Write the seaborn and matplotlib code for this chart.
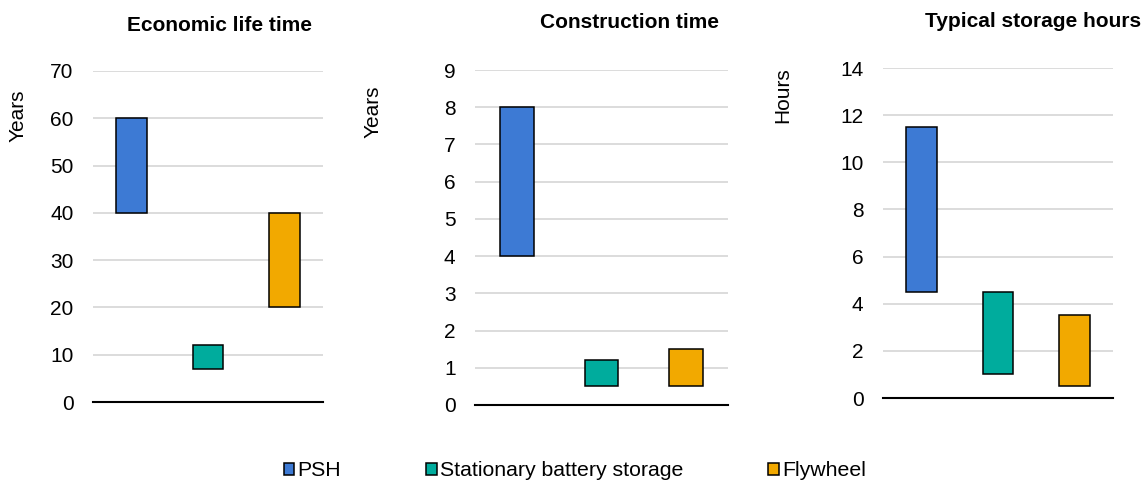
import numpy as np
import pandas as pd
import matplotlib
matplotlib.use("Agg")
import matplotlib.pyplot as plt
import seaborn as sns
from matplotlib.patches import Patch

# dados (faixas min-max)
tecnologias = ["PSH", "Stationary battery storage", "Flywheel"]
cores = ["#3D7AD4", "#00AC9D", "#F2A900"]

vida_min = [40, 7, 20]
vida_max = [60, 12, 40]

construcao_min = [4, 0.5, 0.5]
construcao_max = [8, 1.2, 1.5]

horas_min = [4.5, 1, 0.5]
horas_max = [11.5, 4.5, 3.5]

paineis = [
    ("Economic life time", "Years", vida_min, vida_max, 70, 10),
    ("Construction time", "Years", construcao_min, construcao_max, 9, 1),
    ("Typical storage hours", "Hours", horas_min, horas_max, 14, 2),
]

sns.set_style("white")
plt.rcParams["font.family"] = ["Liberation Sans", "DejaVu Sans"]
plt.rcParams["text.color"] = "black"
plt.rcParams["axes.labelcolor"] = "black"
plt.rcParams["ytick.color"] = "black"

fig = plt.figure(figsize=(11.45, 4.82), dpi=100)

# posicoes dos eixos em pixels (esquerda, base, largura, altura)
W, H = 1145, 482
caixas = [(93, 402, 230, 331), (475, 405, 253, 335), (883, 398, 230, 330)]
titulo_xy = [(0.552, 1.136), (0.609, 1.143), (0.652, 1.142)]
ylabel_xy = [(-0.326, 0.864), (-0.403, 0.875), (-0.435, 0.918)]

for i, (titulo, unidade, lo, hi, ymax, passo) in enumerate(paineis):
    l, b, w, h = caixas[i]
    ax = fig.add_axes([l / W, 1 - b / H, w / W, h / H])
    df = pd.DataFrame({
        "tec": tecnologias,
        "faixa": np.array(hi) - np.array(lo),
        "min": lo,
    })
    sns.barplot(data=df, x="tec", y="faixa", hue="tec", palette=cores,
                order=tecnologias, hue_order=tecnologias, dodge=False,
                saturation=1, width=0.4, edgecolor="black", linewidth=1.1,
                legend=False, ax=ax)
    for patch, base in zip(ax.patches, df["min"]):
        patch.set_y(base)
    ax.set_xlim(-0.5, 2.5)
    ax.set_ylim(0, ymax)
    ax.set_yticks(np.arange(0, ymax + passo / 2, passo))
    ax.set_xticks([])
    ax.set_xlabel("")
    ax.yaxis.grid(True, color="#D9D9D9", linewidth=1.3)
    ax.set_axisbelow(True)
    for s in ["top", "right", "left"]:
        ax.spines[s].set_visible(False)
    ax.spines["bottom"].set_color("black")
    ax.spines["bottom"].set_linewidth(1.5)
    ax.spines["bottom"].set_zorder(5)
    ax.tick_params(axis="y", length=0, pad=14, labelsize=15)
    ax.set_ylabel(unidade, fontsize=15)
    ax.yaxis.set_label_coords(*ylabel_xy[i])
    ax.yaxis.label.set_va("center")
    ax.set_title(titulo, fontsize=15, fontweight="bold", pad=0,
                 x=titulo_xy[i][0], y=titulo_xy[i][1], va="center")

handles = [Patch(facecolor=c, edgecolor="black", linewidth=1.1) for c in cores]
fig.legend(handles, tecnologias, loc="center", bbox_to_anchor=(0.502, 1 - 471 / H),
           ncol=3, frameon=False, fontsize=15.3, handlelength=0.5, handleheight=0.5,
           handletextpad=0.15, columnspacing=4.0, borderaxespad=0)

fig.savefig("out.png", dpi=100)
